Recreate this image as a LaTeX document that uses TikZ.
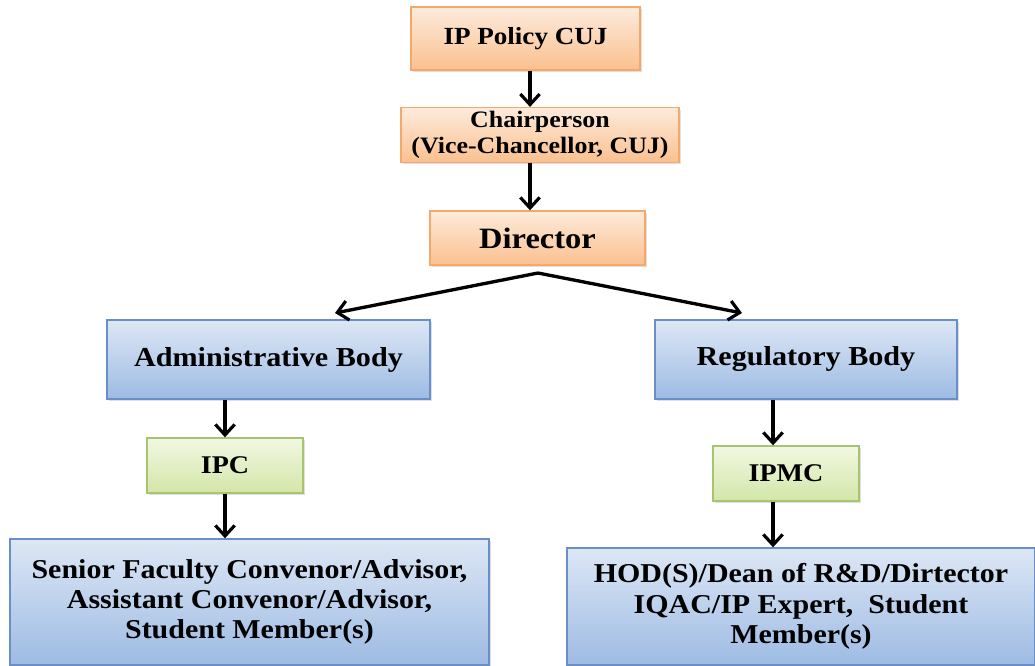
\documentclass[tikz,border=0pt]{standalone}
\usepackage{fontspec}
\setmainfont[FakeStretch=1.1]{Liberation Serif}
\usetikzlibrary{arrows.meta, positioning, shadows}
\definecolor{naranjaborde}{HTML}{F6A86A}
\definecolor{naranjaclaro}{HTML}{FDEBDC}
\definecolor{naranjaoscuro}{HTML}{FAC08F}
\definecolor{azulborde}{HTML}{6A8FC8}
\definecolor{azulclaro}{HTML}{DDE7F5}
\definecolor{azuloscuro}{HTML}{9DBBE3}
\definecolor{verdeborde}{HTML}{A9C470}
\definecolor{verdeclaro}{HTML}{F2F8E3}
\definecolor{verdeoscuro}{HTML}{D3E6A8}
\tikzset{
  every picture/.style={font=\bfseries},
  caja/.style={draw, line width=0.8pt, align=center, inner sep=2pt,
               drop shadow={shadow xshift=1.2pt, shadow yshift=-1.2pt, opacity=0.25}},
  cajan/.style={caja, draw=naranjaborde, top color=naranjaclaro, bottom color=naranjaoscuro},
  cajaa/.style={caja, draw=azulborde, top color=azulclaro, bottom color=azuloscuro},
  cajav/.style={caja, draw=verdeborde, top color=verdeclaro, bottom color=verdeoscuro},
  flecha/.style={-{Straight Barb[length=6pt, width=11pt, line width=1.8pt]}, line width=1.9pt, black},
}
\begin{document}
\begin{tikzpicture}
  \useasboundingbox (0,0) rectangle (20.7,-13.3);
  % cabeza
  \node[cajan, minimum width=4.58cm, minimum height=1.26cm, font=\bfseries\fontsize{14}{16}\selectfont] (pol) at (10.51,-0.77) {IP Policy CUJ};
  \node[cajan, minimum width=5.56cm, minimum height=1.08cm, font=\bfseries\fontsize{13.4}{15}\selectfont] (pres) at (10.80,-2.70) {Chairperson\\(Vice-Chancellor, CUJ)};
  \node[cajan, minimum width=4.30cm, minimum height=1.08cm, font=\bfseries\fontsize{16.8}{19}\selectfont] (dir) at (10.75,-4.76) {Director};
  % cuerpos
  \node[cajaa, minimum width=6.46cm, minimum height=1.58cm, font=\bfseries\fontsize{15.6}{18}\selectfont] (adm) at (5.37,-7.19) {Administrative Body};
  \node[cajaa, minimum width=6.04cm, minimum height=1.58cm, font=\bfseries\fontsize{15.6}{18}\selectfont] (reg) at (16.12,-7.19) {Regulatory Body};
  \node[cajav, minimum width=3.12cm, minimum height=1.10cm, font=\bfseries\fontsize{14.5}{17}\selectfont] (ipc) at (4.50,-9.31) {IPC};
  \node[cajav, minimum width=2.92cm, minimum height=1.10cm, font=\bfseries\fontsize{14.5}{17}\selectfont] (ipmc) at (15.72,-9.47) {IPMC};
  \node[cajaa, minimum width=9.58cm, minimum height=2.52cm, font=\bfseries\fontsize{15.5}{17.2}\selectfont] (sen) at (4.99,-12.04)
    {Senior Faculty Convenor/Advisor,\\Assistant Convenor/Advisor,\\Student Member(s)};
  \node[cajaa, minimum width=9.36cm, minimum height=2.34cm, font=\bfseries\fontsize{15.5}{17.2}\selectfont] (hod) at (16.02,-12.13)
    {HOD(S)/Dean of R\&D/Dirtector\\IQAC/IP Expert,~ Student\\Member(s)};
  % flechas
  \coordinate (vert) at (10.76,-5.46);
  \coordinate (pa) at (6.70,-6.26);
  \coordinate (pb) at (14.84,-6.26);
  \draw[flecha] ([xshift=0.09cm]pol.south) -- ([xshift=0.09cm]pol.south |- pres.north);
  \draw[flecha] ([xshift=0.09cm]pres.south -| pol) -- ([xshift=0.09cm]dir.north -| pol);
  \draw[flecha] (vert) -- (pa);
  \draw[flecha] (vert) -- (pb);
  \draw[flecha] (adm.south -| ipc) -- (ipc.north);
  \draw[flecha] (ipc.south) -- (ipc.south |- sen.north);
  \draw[flecha] ([xshift=-0.26cm]reg.south -| ipmc) -- ([xshift=-0.26cm]ipmc.north);
  \draw[flecha] ([xshift=-0.26cm]ipmc.south) -- ([xshift=-0.26cm]ipmc.south |- hod.north);
\end{tikzpicture}
\end{document}
